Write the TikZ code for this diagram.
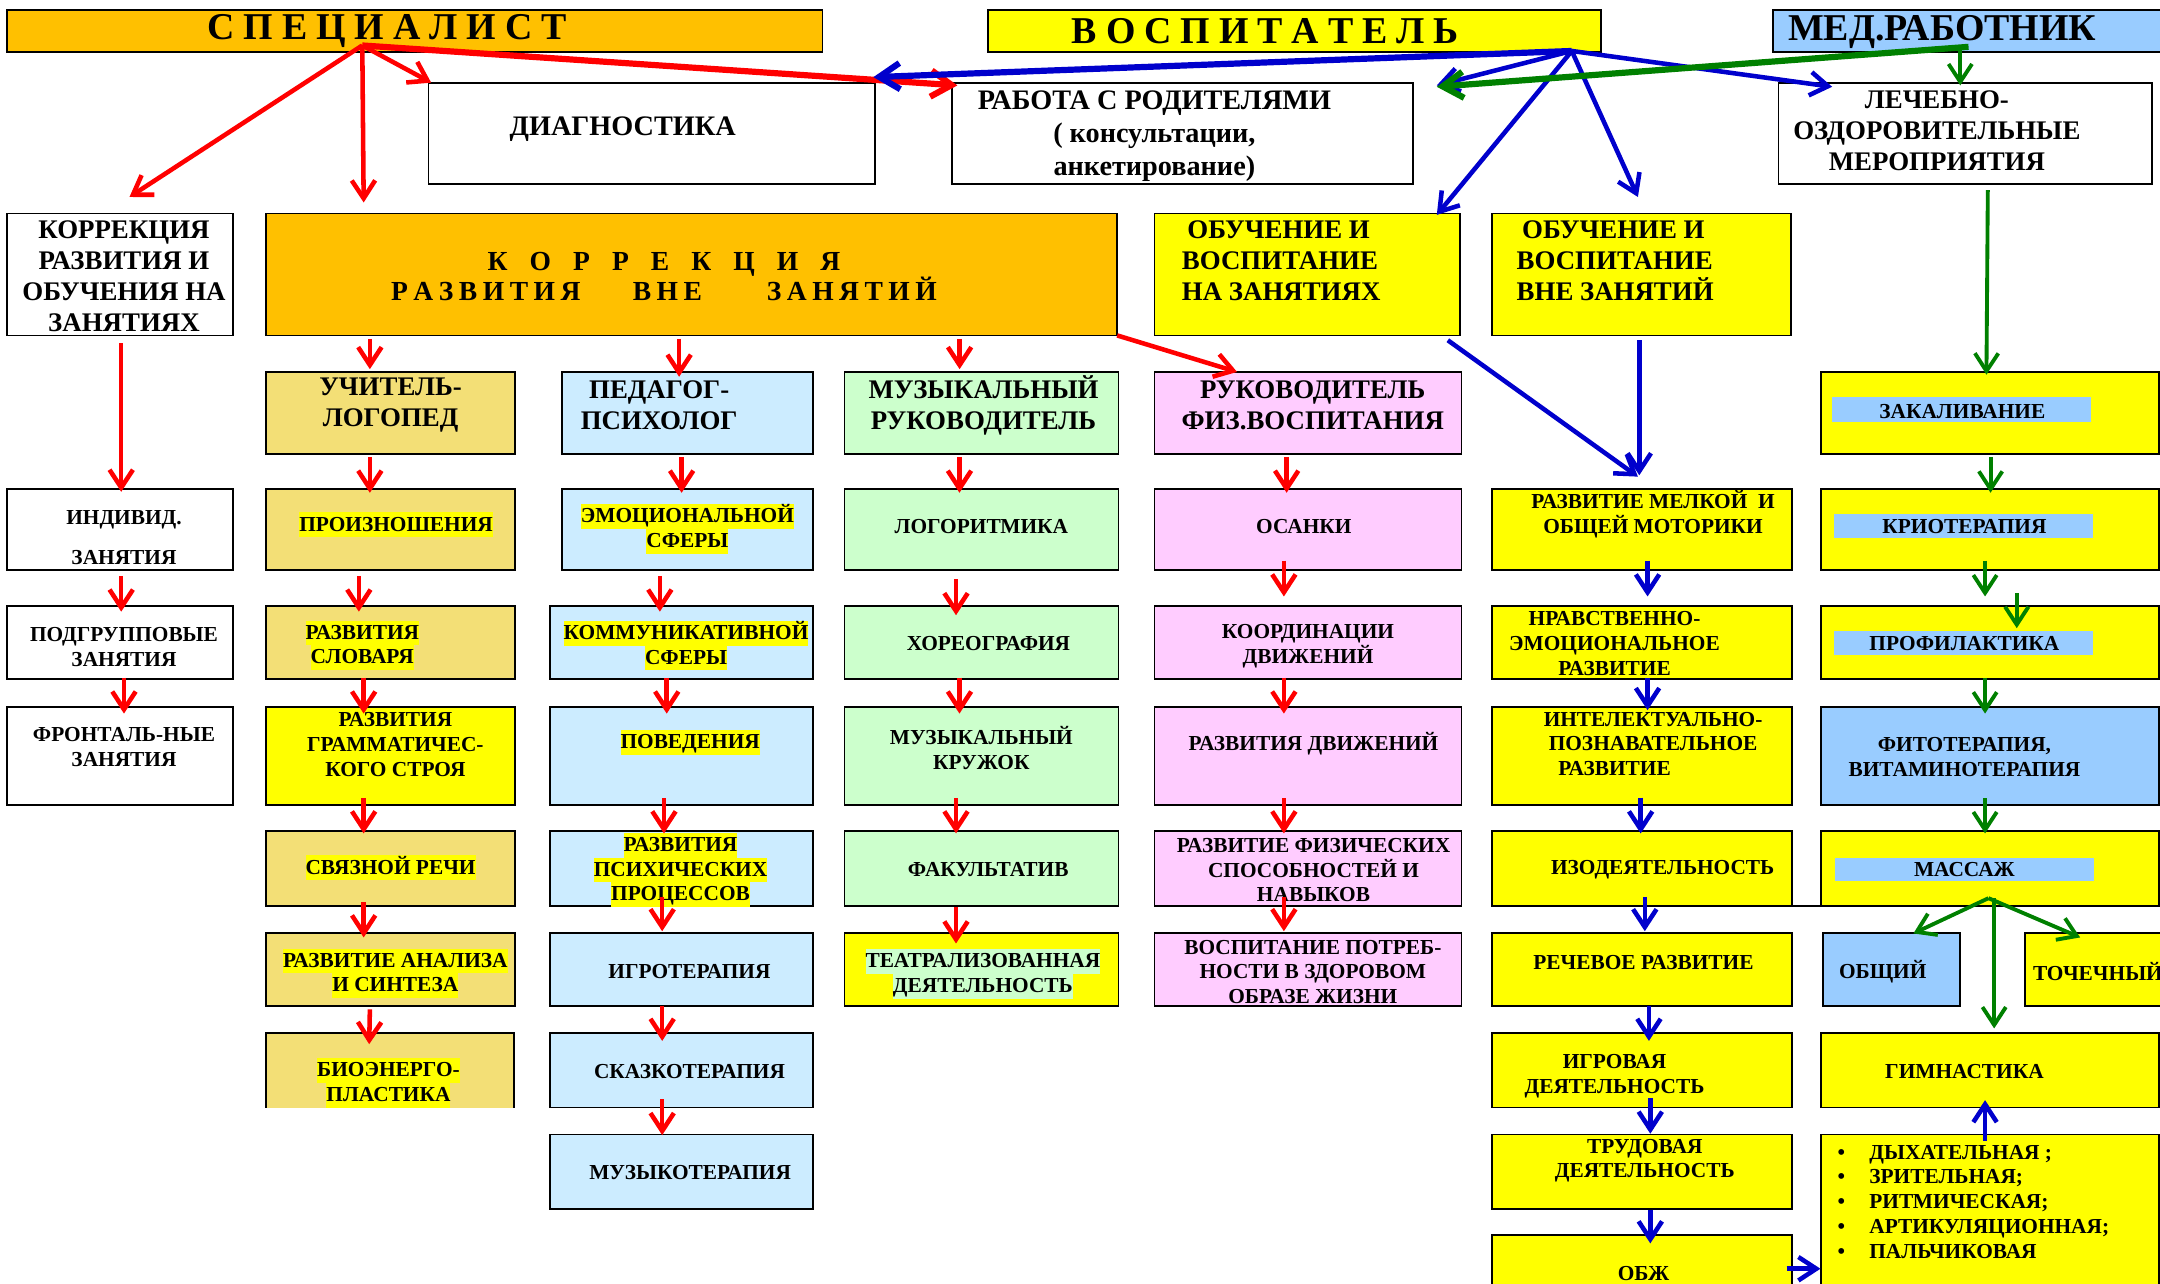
\documentclass[tikz,border=0pt]{standalone}
\usepackage{fontspec}
\setmainfont{Liberation Serif}
\usetikzlibrary{arrows.meta}
\definecolor{orng}{HTML}{FFC000}
\definecolor{yel}{HTML}{FFFF00}
\definecolor{medb}{HTML}{99CCFF}
\definecolor{khak}{HTML}{F3DF76}
\definecolor{lblu}{HTML}{CCECFF}
\definecolor{lgrn}{HTML}{CCFFCC}
\definecolor{pnk}{HTML}{FFCCFF}
\definecolor{rd}{HTML}{FF0000}
\definecolor{bl}{HTML}{0000CC}
\definecolor{gr}{HTML}{008000}
\setlength{\fboxsep}{0pt}
\newcommand\szS{\fontsize{15.5}{18}\selectfont}
\newcommand\szM{\fontsize{19.5}{22.5}\selectfont}
\newcommand\szL{\fontsize{20.5}{24}\selectfont}
\newcommand\szB{\fontsize{27.5}{30}\selectfont}
\newcommand\hlY[1]{\colorbox{yel}{\rule[-4.5pt]{0pt}{18pt}#1}}
\newcommand\hlG[1]{\colorbox{lgrn}{\rule[-4.5pt]{0pt}{18pt}#1}}
\newcommand\gapA{\hspace{6.5pt}}
\newcommand\gapB{\hspace{16pt}}
\newcommand\gapC{\hspace{4pt}}
\newcommand\bx[6]{\node[bxs,#2,minimum width={(#5)-(#3)},minimum height={(#6)-(#4)}] (#1) at ({((#3)+(#5))/2},{((#4)+(#6))/2}) {};}
\newcommand\va[7]{\draw[#1] ([shift={(#4,#5)}]#2.south) -- ([shift={(#6,#7)}]#3.north);}
\tikzset{
 bxs/.style={draw=black,line width=1.3pt,inner sep=0pt,outer sep=0pt},
 bline/.style={draw=black,line width=1.3pt},
 tx/.style={inner sep=0pt,outer sep=0pt,align=center,font=\bfseries\szS},
 txm/.style={tx,font=\bfseries\szM},
 txl/.style={tx,font=\bfseries\szL},
 txb/.style={tx,font=\bfseries\szB},
 ar/.style={-{Straight Barb[length=13pt,width=17pt]}},
 rarr/.style={ar,draw=rd,line width=3.3pt},
 barr/.style={ar,draw=bl,line width=3.3pt},
 garr/.style={ar,draw=gr,line width=2.8pt},
 thk/.style={line width=4.5pt,-{Straight Barb[length=15pt,width=19pt]}},
}
\begin{document}
\begin{tikzpicture}[x=1pt,y=-1pt]
\useasboundingbox (0,0) rectangle (1568,931.4);
\clip (0,0) rectangle (1568,931.4);
% ---------- boxes
\bx{sp}{fill=orng}{5}{7}{597}{38}
\bx{vos}{fill=yel}{717}{7}{1162}{38}
\bx{med}{fill=medb}{1287}{7}{1600}{38}
\bx{diag}{fill=white}{311}{60}{635}{133.5}
\bx{rab}{fill=white}{691}{60}{1026}{133.5}
\bx{lech}{fill=white}{1291}{60}{1562}{133.5}
\bx{kl}{fill=white}{5}{155}{169}{243.5}
\bx{kv}{fill=orng}{193}{155}{811}{243.5}
\bx{obn}{fill=yel}{838}{155}{1060}{243.5}
\bx{obv}{fill=yel}{1083}{155}{1300}{243.5}
% col A
\bx{ind}{fill=white}{5}{355}{169}{413.5}
\bx{podg}{fill=white}{5}{440}{169}{493}
\bx{front}{fill=white}{5}{513}{169}{584.5}
% col B
\bx{uch}{fill=khak}{193}{270}{374}{329.5}
\bx{prn}{fill=khak}{193}{355}{374}{413.5}
\bx{slv}{fill=khak}{193}{440}{374}{493}
\bx{grm}{fill=yel}{193}{513}{374}{584.5}
\bx{svz}{fill=khak}{193}{603.5}{374}{657.5}
\bx{anl}{fill=khak}{193}{677}{374}{730.5}
\bx{bio}{fill=khak,draw=none}{193}{750}{373}{804}
\draw[bline] (bio.south west) -- (bio.north west) -- (bio.north east) -- (bio.south east);
% col C
\bx{ped}{fill=lblu}{408}{270}{590}{329.5}
\bx{emo}{fill=lblu}{408}{355}{590}{413.5}
\bx{kom}{fill=lblu}{399}{440}{590}{493}
\bx{pov}{fill=lblu}{399}{513}{590}{584.5}
\bx{psi}{fill=lblu}{399}{603.5}{590}{657.5}
\bx{igr}{fill=lblu}{399}{677}{590}{730.5}
\bx{skz}{fill=lblu}{399}{750}{590}{804}
\bx{mzt}{fill=lblu}{399}{823.5}{590}{877.5}
% col D
\bx{muz}{fill=lgrn}{613}{270}{812}{329.5}
\bx{lgr}{fill=lgrn}{613}{355}{812}{413.5}
\bx{hor}{fill=lgrn}{613}{440}{812}{493}
\bx{krj}{fill=lgrn}{613}{513}{812}{584.5}
\bx{fak}{fill=lgrn}{613}{603.5}{812}{657.5}
\bx{tea}{fill=yel}{613}{677}{812}{730.5}
% col E
\bx{fiz}{fill=pnk}{838}{270}{1061}{329.5}
\bx{osa}{fill=pnk}{838}{355}{1061}{413.5}
\bx{koo}{fill=pnk}{838}{440}{1061}{493}
\bx{rdv}{fill=pnk}{838}{513}{1061}{584.5}
\bx{fsp}{fill=pnk}{838}{603.5}{1061}{657.5}
\bx{vpt}{fill=pnk}{838}{677}{1061}{730.5}
% col F
\bx{mot}{fill=yel}{1083}{355}{1301}{413.5}
\bx{nrv}{fill=yel}{1083}{440}{1301}{493}
\bx{int}{fill=yel}{1083}{513}{1301}{584.5}
\bx{izo}{fill=yel}{1083}{603.5}{1301}{657.5}
\bx{rec}{fill=yel}{1083}{677}{1301}{730.5}
\bx{igv}{fill=yel}{1083}{750}{1301}{804}
\bx{trd}{fill=yel}{1083}{823.5}{1301}{877.5}
\bx{obz}{fill=yel}{1083}{896.5}{1301}{950}
% col G
\bx{zak}{fill=yel}{1322}{270}{1567}{329.5}
\bx{kri}{fill=yel}{1322}{355}{1567}{413.5}
\bx{prf}{fill=yel}{1322}{440}{1567}{493}
\bx{fit}{fill=medb}{1322}{513}{1567}{584.5}
\bx{mas}{fill=yel}{1322}{603.5}{1567}{657.5}
\bx{obs}{fill=medb}{1323.5}{677}{1423}{730.5}
\bx{toc}{fill=yel}{1470}{677}{1600}{730.5}
\bx{gim}{fill=yel}{1322}{750}{1567}{804}
\bx{bul}{fill=yel}{1322}{823.5}{1567}{950}
\draw[bline] (izo.south east) -- (mas.south west);
% bands
\fill[medb] (1330,288.5) rectangle (1518,306);
\fill[medb] (1331,373) rectangle (1519,390.6);
\fill[medb] (1331,458) rectangle (1519,475.6);
\fill[medb] (1332,622.5) rectangle (1520,639.6);
% ---------- texts
\node[txb] (tsp) at (281,22.5) {С\gapA П\gapA Е\gapA Ц\gapA И\gapA А\gapA Л\gapA И\gapA С\gapA Т};
\node[txb] (tvos) at (918.6,22.5) {В\gapA О\gapA С\gapA П\gapA И\gapA Т\gapA А\gapA Т\gapA Е\gapA Л\gapA Ь};
\node[txb,anchor=west] (tmed) at (1298,23) {МЕД.РАБОТНИК};
\node[txl] (tdiag) at (452,93.7) {ДИАГНОСТИКА};
\node[txl] (trab) at (838,98.7) {РАБОТА С РОДИТЕЛЯМИ\\( консультации,\\анкетирование)};
\node[txm] (tlech) at (1406,94.7) {ЛЕЧЕБНО-\\ОЗДОРОВИТЕЛЬНЫЕ\\МЕРОПРИЯТИЯ};
\node[txm] (tkl) at (90,200.4) {КОРРЕКЦИЯ\\РАЗВИТИЯ И\\ОБУЧЕНИЯ НА\\ЗАНЯТИЯХ};
\node[tx,font=\bfseries\fontsize{20}{22}\selectfont] (tkv) at (482,200.5) {К\gapB О\gapB Р\gapB Р\gapB Е\gapB К\gapB Ц\gapB И\gapB Я\\Р\gapC А\gapC З\gapC В\gapC И\gapC Т\gapC И\gapC Я\hspace{38pt}В\gapC Н\gapC Е\hspace{47pt}З\gapC А\gapC Н\gapC Я\gapC Т\gapC И\gapC Й};
\node[txm,align=left,anchor=west] (tobn) at (858,189.4) {\hspace*{4pt}ОБУЧЕНИЕ И\\ВОСПИТАНИЕ\\НА ЗАНЯТИЯХ};
\node[txm,align=left,anchor=west] (tobv) at (1101,189.4) {\hspace*{4pt}ОБУЧЕНИЕ И\\ВОСПИТАНИЕ\\ВНЕ ЗАНЯТИЙ};
% col A
\node[tx] (tind) at (90,390.5) {ИНДИВИД.\\[11pt]ЗАНЯТИЯ};
\node[tx] (tpodg) at (90,469.5) {ПОДГРУППОВЫЕ\\ЗАНЯТИЯ};
\node[tx] (tfront) at (90,542.5) {ФРОНТАЛЬ-НЫЕ\\ЗАНЯТИЯ};
% col B
\node[txm] (tuch) at (283.5,294) {УЧИТЕЛЬ-\\ЛОГОПЕД};
\node[tx] (tprn) at (287.5,381) {\hlY{ПРОИЗНОШЕНИЯ}};
\node[tx] (tslv) at (263,468.5) {\hlY{РАЗВИТИЯ}\\\hlY{СЛОВАРЯ}};
\node[tx] (tgrm) at (287,540.4) {РАЗВИТИЯ\\ГРАММАТИЧЕС-\\КОГО СТРОЯ};
\node[tx] (tsvz) at (283.5,630) {\hlY{СВЯЗНОЙ РЕЧИ}};
\node[tx] (tanl) at (287,706.6) {\hlY{РАЗВИТИЕ АНАЛИЗА}\\\hlY{И СИНТЕЗА}};
\node[tx] (tbio) at (282,786) {\hlY{БИОЭНЕРГО-}\\\hlY{ПЛАСТИКА}};
% col C
\node[txm] (tped) at (478.5,294) {ПЕДАГОГ-\\ПСИХОЛОГ};
\node[tx] (temo) at (499,384) {\hlY{ЭМОЦИОНАЛЬНОЙ}\\\hlY{СФЕРЫ}};
\node[tx] (tkom) at (498,468.6) {\hlY{КОММУНИКАТИВНОЙ}\\\hlY{СФЕРЫ}};
\node[tx] (tpov) at (501,539) {\hlY{ПОВЕДЕНИЯ}};
\node[tx] (tpsi) at (494,631.5) {\hlY{РАЗВИТИЯ}\\\hlY{ПСИХИЧЕСКИХ}\\\hlY{ПРОЦЕССОВ}};
\node[tx] (tigr) at (500.5,705) {ИГРОТЕРАПИЯ};
\node[tx] (tskz) at (500.5,778) {СКАЗКОТЕРАПИЯ};
\node[tx] (tmzt) at (501,851) {МУЗЫКОТЕРАПИЯ};
% col D
\node[txm] (tmuz) at (714,294) {МУЗЫКАЛЬНЫЙ\\РУКОВОДИТЕЛЬ};
\node[tx] (tlgr) at (712.4,382) {ЛОГОРИТМИКА};
\node[tx] (thor) at (717.6,467) {ХОРЕОГРАФИЯ};
\node[tx] (tkrj) at (712.4,543) {МУЗЫКАЛЬНЫЙ\\КРУЖОК};
\node[tx] (tfak) at (717.4,631.5) {ФАКУЛЬТАТИВ};
\node[tx] (ttea) at (713.5,707) {\hlG{ТЕАТРАЛИЗОВАННАЯ}\\\hlG{ДЕЯТЕЛЬНОСТЬ}};
% col E
\node[txm] (tfiz) at (953,294) {РУКОВОДИТЕЛЬ\\ФИЗ.ВОСПИТАНИЯ};
\node[tx] (tosa) at (946.5,382) {ОСАНКИ};
\node[tx] (tkoo) at (949.5,469) {КООРДИНАЦИИ\\ДВИЖЕНИЙ};
\node[tx] (trdv) at (953.5,540) {РАЗВИТИЯ ДВИЖЕНИЙ};
\node[tx] (tfsp) at (953.5,631.6) {РАЗВИТИЕ ФИЗИЧЕСКИХ\\СПОСОБНОСТЕЙ И\\НАВЫКОВ};
\node[tx] (tvpt) at (953,705.5) {ВОСПИТАНИЕ ПОТРЕБ-\\НОСТИ В ЗДОРОВОМ\\ОБРАЗЕ ЖИЗНИ};
% col F
\node[tx] (tmot) at (1200,373) {РАЗВИТИЕ МЕЛКОЙ~~И\\ОБЩЕЙ МОТОРИКИ};
\node[tx] (tnrv) at (1172,467) {НРАВСТВЕННО-\\ЭМОЦИОНАЛЬНОЕ\\РАЗВИТИЕ};
\node[tx] (tint) at (1200,540) {ИНТЕЛЕКТУАЛЬНО-\\ПОЗНАВАТЕЛЬНОЕ\\\hspace*{-56pt}РАЗВИТИЕ};
\node[tx] (tizo) at (1207,631.5) {ИЗОДЕЯТЕЛЬНОСТЬ};
\node[tx] (trec) at (1193,699) {РЕЧЕВОЕ РАЗВИТИЕ};
\node[tx] (tigv) at (1172,781) {ИГРОВАЯ\\ДЕЯТЕЛЬНОСТЬ};
\node[tx] (ttrd) at (1194,842.6) {ТРУДОВАЯ\\ДЕЯТЕЛЬНОСТЬ};
\node[tx] (tobz) at (1193,924.5) {ОБЖ};
% col G
\node[tx] (tzak) at (1424.5,298.5) {ЗАКАЛИВАНИЕ};
\node[tx] (tkri) at (1426,382) {КРИОТЕРАПИЯ};
\node[tx] (tprf) at (1426,467) {ПРОФИЛАКТИКА};
\node[tx] (tfit) at (1426,549.5) {ФИТОТЕРАПИЯ,\\ВИТАМИНОТЕРАПИЯ};
\node[tx] (tmas) at (1426,631.5) {МАССАЖ};
\node[tx,anchor=west] (tobs) at (1335,705) {ОБЩИЙ};
\node[tx,anchor=west] (ttoc) at (1475.8,705) {ТОЧЕЧНЫЙ};
\node[tx] (tgim) at (1426,778) {ГИМНАСТИКА};
\node[tx,align=left,anchor=west] (tbul) at (1334,872.4) {\makebox[23pt][l]{•}ДЫХАТЕЛЬНАЯ ;\\\makebox[23pt][l]{•}ЗРИТЕЛЬНАЯ;\\\makebox[23pt][l]{•}РИТМИЧЕСКАЯ;\\\makebox[23pt][l]{•}АРТИКУЛЯЦИОННАЯ;\\\makebox[23pt][l]{•}ПАЛЬЧИКОВАЯ};
% ---------- coordinates
\coordinate (spA) at ([shift={(-38,-5)}]sp.south);
\coordinate (vosA) at ([shift={(-21,-1)}]vos.south east);
\coordinate (medA) at ([shift={(-14.5,-4)}]med.south);
\coordinate (masA) at ([shift={(-1,-5.5)}]mas.south);
% ---------- red arrows
\draw[rarr] (spA) -- ([shift={(7,-12)}]kl.north);
\draw[rarr] (spA) -- ([shift={(71,-8)}]kv.north west);
\draw[rarr] (spA) -- ([shift={(2,0)}]diag.north west);
\draw[rarr,thk] (spA) -- ([shift={(4,2)}]rab.north west);
\va{rarr}{kl}{ind}{1}{5.5}{1}{2}
\va{rarr}{ind}{podg}{1}{4.5}{1}{4}
\va{rarr}{podg}{front}{3}{-1}{3}{5}
\va{rarr}{kv}{uch}{-233.5}{2.5}{-15}{-2}
\va{rarr}{kv}{ped}{-9}{2.5}{-6}{3.5}
\va{rarr}{kv}{muz}{194.6}{2.5}{-15.9}{-2}
\draw[rarr] (kv.south east) -- ([shift={(60,0)}]fiz.north west);
\va{rarr}{uch}{prn}{-15}{2.1}{-15}{2.7}
\va{rarr}{prn}{slv}{-23}{4.5}{-23}{4}
\va{rarr}{slv}{grm}{-19.5}{-1}{-19.5}{5}
\va{rarr}{grm}{svz}{-19.5}{-5}{-19.5}{1.5}
\va{rarr}{svz}{anl}{-19.5}{-2.5}{-19.5}{3.5}
\va{rarr}{anl}{bio}{-15}{2.2}{-15}{8}
\va{rarr}{ped}{emo}{-4.2}{2.1}{-4.2}{2.7}
\va{rarr}{emo}{kom}{-20}{4.5}{-15.5}{4}
\va{rarr}{kom}{pov}{-10.5}{-1}{-10.5}{5}
\va{rarr}{pov}{psi}{-12.5}{-5}{-12.5}{1.5}
\va{rarr}{psi}{igr}{-13.8}{-6.5}{-13.8}{-1}
\va{rarr}{igr}{skz}{-13.8}{0}{-13.8}{5.6}
\va{rarr}{skz}{mzt}{-13.8}{-6}{-13.8}{0.5}
\va{rarr}{muz}{lgr}{-16}{2.1}{-16}{2.7}
\va{rarr}{lgr}{hor}{-18.5}{7.1}{-18.5}{6.6}
\va{rarr}{hor}{krj}{-16}{-1}{-16}{5}
\va{rarr}{krj}{fak}{-18.5}{-5}{-18.5}{1.5}
\va{rarr}{fak}{tea}{-18.5}{1.1}{-18.5}{7.9}
\va{rarr}{fiz}{osa}{-15.5}{2.1}{-15.5}{2.7}
\va{rarr}{osa}{koo}{-17.5}{-6.5}{-17.5}{-7}
\va{rarr}{koo}{rdv}{-17.5}{-1}{-17.5}{5}
\va{rarr}{rdv}{fsp}{-17.5}{-5}{-17.5}{1.5}
\va{rarr}{fsp}{vpt}{-17.5}{-6.5}{-17.5}{-1}
% ---------- blue arrows
\draw[barr,thk] (vosA) -- ([shift={(-1,-4)}]diag.north east);
\draw[barr] (vosA) -- ([shift={(17,2)}]rab.north east);
\draw[barr] (vosA) -- ([shift={(-17,1)}]obn.north east);
\draw[barr] (vosA) -- ([shift={(-2.5,-12)}]obv.north);
\draw[barr] (vosA) -- ([shift={(39,3)}]lech.north west);
\draw[barr] ([shift={(-9,3.5)}]obn.south east) -- ([shift={(-3,-9)}]mot.north);
\draw[barr] ([shift={(-1.5,3.5)}]obv.south) -- ([shift={(-2,-10)}]mot.north);
\va{barr}{mot}{nrv}{4}{-6.5}{4}{-7}
\va{barr}{nrv}{int}{4}{-1}{4}{2.5}
\va{barr}{int}{izo}{-1}{-5.5}{-1}{1.5}
\va{barr}{izo}{rec}{2}{-6.5}{2}{-1}
\va{barr}{rec}{igv}{5}{0}{5}{5.6}
\va{barr}{igv}{trd}{6}{-7}{6}{-0.5}
\va{barr}{trd}{obz}{6}{0.5}{6}{6.1}
\draw[barr] ([shift={(-4,24.5)}]obz.north east) -- ([shift={(-0.5,97.5)}]bul.north west);
\draw[barr] ([shift={(-3.5,4.5)}]bul.north) -- ([shift={(-3.5,-5.4)}]gim.south);
% ---------- green arrows
\draw[garr,thk] (medA) -- ([shift={(17,3)}]rab.north east);
\draw[garr] ([shift={(-20.5,-2)}]med.south) -- ([shift={(-3.5,2)}]lech.north);
\draw[garr] ([shift={(16.5,4.5)}]lech.south) -- ([shift={(-2.5,2)}]zak.north);
\va{garr}{zak}{kri}{0.5}{2.1}{0.5}{2.7}
\va{garr}{kri}{prf}{-3.5}{-6.5}{-3.5}{-7}
\va{garr}{kri}{prf}{19.5}{17.2}{19.5}{16}
\va{garr}{prf}{fit}{-3.5}{-1}{-3.5}{5}
\va{garr}{fit}{mas}{-3.5}{-5}{-3.5}{1.5}
\draw[garr] (masA) -- ([shift={(15.75,0.6)}]obs.north);
\draw[garr] (masA) -- ([shift={(40,3.5)}]toc.north west);
\draw[garr] ([shift={(3.1,-5.5)}]mas.south) -- ([shift={(3.1,-3.4)}]gim.north);
\end{tikzpicture}
\end{document}
